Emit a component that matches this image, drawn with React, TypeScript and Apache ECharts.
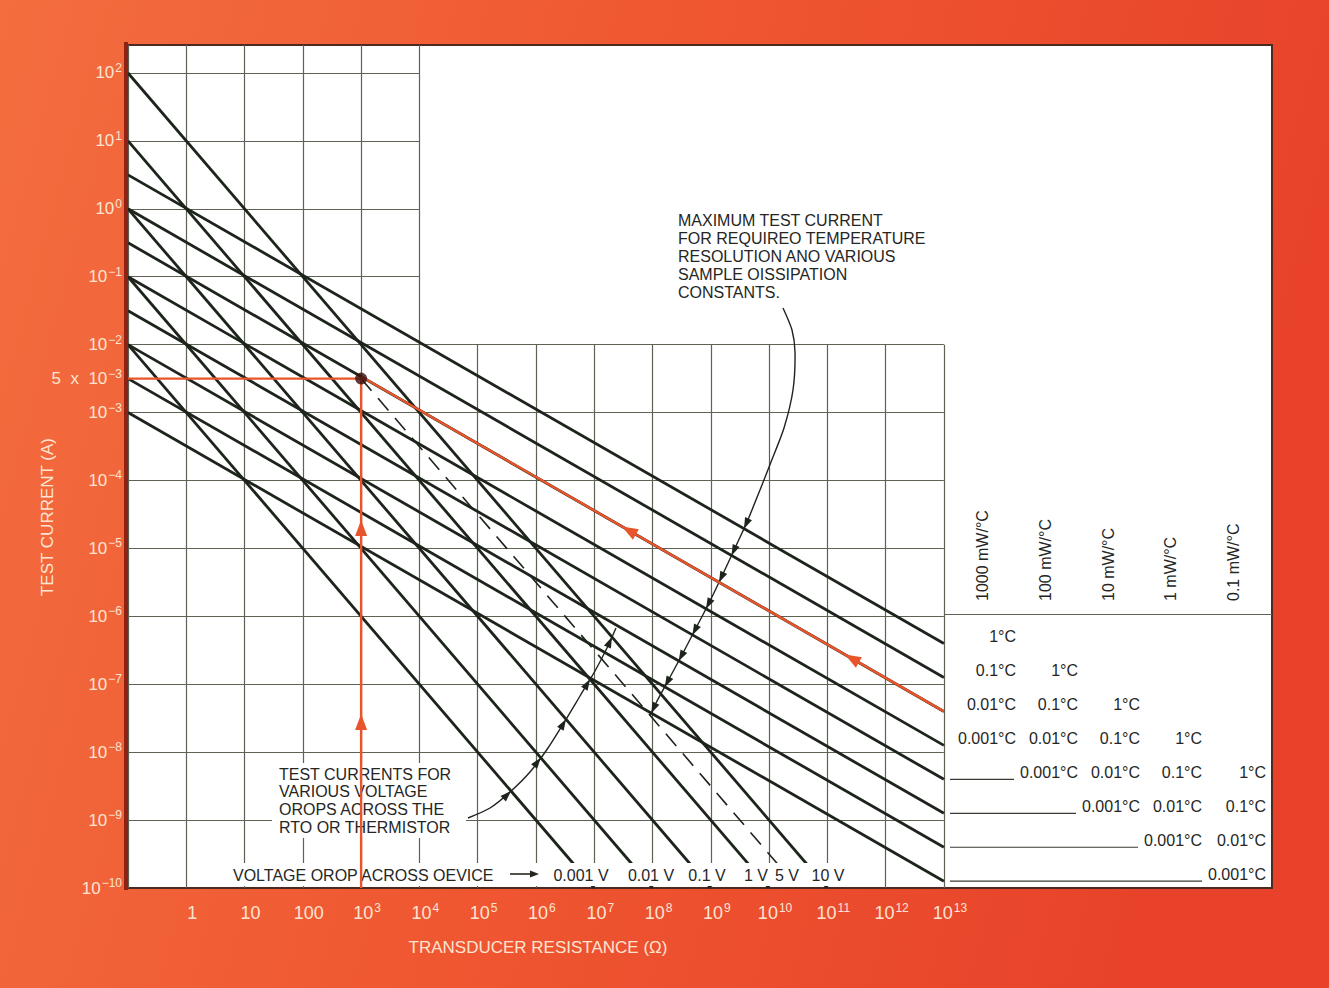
import React, { useEffect, useRef } from 'react';
import * as echarts from 'echarts';

// ---------------- data (all values are log10 units) ----------------
const X_MIN = -1; // log10 R at the left frame edge (0.1 ohm)
const X_MAX = 18.63; // log10 R at the right frame edge (table area)
const Y_MIN = -10; // log10 I at the bottom
const Y_MAX = 2.412; // log10 I at the top edge

const xTickExponents = [0, 1, 2, 3, 4, 5, 6, 7, 8, 9, 10, 11, 12, 13];
const yTickExponents = [2, 1, 0, -1, -2, -3, -4, -5, -6, -7, -8, -9, -10];
const yExampleTick = -2.5; // position of the "5 x 10^-3" label

const upperGridLogR = [-1, 0, 1, 2, 3, 4];
const upperGridLogI = [2, 1, 0, -1];
const mainGridLogR = [-1, 0, 1, 2, 3, 4, 5, 6, 7, 8, 9, 10, 11, 12, 13];
const mainGridLogI = [-2, -3, -4, -5, -6, -7, -8, -9];
const tableSeparatorLogI = -5.97;

// voltage-drop lines (slope -1): start at log R = -1, end at log I = -10
const voltageNames = ['10 V', '1 V', '0.1 V', '0.01 V', '0.001 V'];
const voltageStartLogI = [2, 1, 0, -1, -2];
const voltageEndLogR = [11, 10, 9, 8, 7];
// dashed 5 V line
const dashedStart = [3, -2.5];
const dashedEnd = [10.5, -10];

// max-current lines (slope -1/2): start at log R = -1, end at log R = 13
const powerNames = ['1 W', '100 mW', '10 mW', '1 mW', '0.1 mW', '10 µW', '1 µW', '0.1 µW'];
const powerStartLogI = [0.5, 0, -0.5, -1, -1.5, -2, -2.5, -3];
const powerEndLogI = [-6.4, -6.9, -7.4, -7.9, -8.4, -8.9, -9.4, -9.9];

// worked example (red)
const exampleLogR = 3;
const exampleLogI = -2.5;
const exampleDiagStart = [3, -2.47];
const exampleDiagEnd = [13, -7.4];

const dissipationLabels = ['1000 mW/°C', '100 mW/°C', '10 mW/°C', '1 mW/°C', '0.1 mW/°C'];
const resolutionLabels = ['1°C', '0.1°C', '0.01°C', '0.001°C'];
const bottomVoltageLabels = ['0.001 V', '0.01 V', '0.1 V', '1 V', '5 V', '10 V'];

const noteMax = ['MAXIMUM TEST CURRENT', 'FOR REQUIREO TEMPERATURE', 'RESOLUTION ANO VARIOUS', 'SAMPLE OISSIPATION', 'CONSTANTS.'];
const noteTest = ['TEST CURRENTS FOR', 'VARIOUS VOLTAGE', 'OROPS ACROSS THE', 'RTO OR THERMISTOR'];

// ---------------- styling / layout ----------------
const FONT = "'Liberation Sans', Arial, Helvetica, sans-serif";
const LABEL_COLOR = '#fde4d2';
const INK = '#1c241b';
const TEXT_INK = '#25261f';
const GRID_INK = '#5e6153';
const RED = '#e9552b';

const GL = 128;
const GT = 45;
const GW = 1144;
const GH = 843;
const px = (x: number) => GL + ((x - X_MIN) / (X_MAX - X_MIN)) * GW;
const py = (y: number) => GT + ((Y_MAX - y) / (Y_MAX - Y_MIN)) * GH;
const toVx = (p: number) => X_MIN + ((p - GL) / GW) * (X_MAX - X_MIN);

function lineYpx(a: number[], b: number[], pxX: number) {
  const xv = toVx(pxX);
  const yv = a[1] + ((xv - a[0]) * (b[1] - a[1])) / (b[0] - a[0]);
  return py(yv);
}

function crossing(path: number[][], a: number[], b: number[]) {
  for (let i = 0; i < path.length - 1; i++) {
    const p0 = path[i];
    const p1 = path[i + 1];
    const f0 = p0[1] - lineYpx(a, b, p0[0]);
    const f1 = p1[1] - lineYpx(a, b, p1[0]);
    if (f0 === f1) continue;
    if (f0 * f1 <= 0) {
      const t = f0 / (f0 - f1);
      return {
        x: p0[0] + t * (p1[0] - p0[0]),
        y: p0[1] + t * (p1[1] - p0[1]),
        a: Math.atan2(p1[1] - p0[1], p1[0] - p0[0]),
      };
    }
  }
  return null;
}

function arrowHead(x: number, y: number, ang: number, L: number, w: number, fill: string, z: number) {
  const bx = x - L * Math.cos(ang);
  const by = y - L * Math.sin(ang);
  const nx = -Math.sin(ang);
  const ny = Math.cos(ang);
  return {
    type: 'polygon',
    z,
    silent: true,
    shape: { points: [[x, y], [bx + w * nx, by + w * ny], [bx - w * nx, by - w * ny]] },
    style: { fill },
  };
}

function txt(x: number, y: number, text: string, opts: any = {}) {
  const align = opts.align || 'left';
  const va = opts.va || 'middle';
  return {
    type: 'text',
    x,
    y,
    z: opts.z ?? 6,
    rotation: opts.rotation || 0,
    silent: true,
    style: {
      text,
      x: 0,
      y: 0,
      fill: opts.fill || TEXT_INK,
      font: `${opts.weight || 'normal'} ${opts.size || 16}px ${opts.family || FONT}`,
      align,
      textAlign: align,
      verticalAlign: va,
      textVerticalAlign: va,
    },
  };
}

function buildOption() {
  const seg = (a: number[], b: number[]) => ({ coords: [a, b] });
  const gridSegs = [
    ...upperGridLogR.map((x) => seg([x, -2], [x, Y_MAX])),
    ...upperGridLogI.map((y) => seg([-1, y], [4, y])),
    ...mainGridLogR.map((x) => seg([x, Y_MIN], [x, -2])),
    ...mainGridLogI.map((y) => seg([-1, y], [13, y])),
    seg([13, tableSeparatorLogI], [X_MAX, tableSeparatorLogI]),
  ];

  const series: any[] = [
    {
      type: 'lines',
      coordinateSystem: 'cartesian2d',
      polyline: false,
      silent: true,
      z: 1,
      effect: { show: false },
      lineStyle: { color: GRID_INK, width: 1.2, opacity: 1 },
      data: gridSegs,
    },
  ];

  const voltageSegs = voltageNames.map((n, i) => ({
    name: n,
    a: [-1, voltageStartLogI[i]],
    b: [voltageEndLogR[i], Y_MIN],
  }));
  voltageSegs.forEach((s) => {
    series.push({
      type: 'line',
      name: s.name,
      data: [s.a, s.b],
      symbol: 'none',
      silent: true,
      z: 3,
      lineStyle: { color: INK, width: 2.8 },
    });
  });
  series.push({
    type: 'line',
    name: '5 V',
    data: [dashedStart, dashedEnd],
    symbol: 'none',
    silent: true,
    z: 3,
    lineStyle: { color: INK, width: 1.6, type: [16, 10] },
  });

  const powerSegs = powerNames.map((n, i) => ({
    name: n,
    a: [-1, powerStartLogI[i]],
    b: [13, powerEndLogI[i]],
  }));
  powerSegs.forEach((s) => {
    series.push({
      type: 'line',
      name: s.name,
      data: [s.a, s.b],
      symbol: 'none',
      silent: true,
      z: 3,
      lineStyle: { color: INK, width: 2.8 },
    });
  });

  // red worked example
  series.push(
    {
      type: 'line',
      data: [[-1, exampleLogI], [exampleLogR, exampleLogI]],
      symbol: 'none',
      silent: true,
      z: 9,
      lineStyle: { color: RED, width: 2.4 },
    },
    {
      type: 'line',
      data: [[exampleLogR, exampleLogI], [exampleLogR, Y_MIN]],
      symbol: 'none',
      silent: true,
      z: 9,
      lineStyle: { color: RED, width: 2.4 },
    },
    {
      type: 'line',
      data: [exampleDiagStart, exampleDiagEnd],
      symbol: 'none',
      silent: true,
      z: 9,
      lineStyle: { color: RED, width: 2.4 },
    },
    {
      type: 'scatter',
      data: [[exampleLogR, exampleLogI]],
      symbol: 'circle',
      symbolSize: 12,
      silent: true,
      z: 10,
      itemStyle: { color: '#3a0e0b' },
    }
  );

  // ---------------- graphic annotations ----------------
  const g: any[] = [];
  // left frame edge (dark red)
  g.push({ type: 'rect', z: 12, silent: true, shape: { x: 124, y: 42, width: 4, height: 848 }, style: { fill: '#8e2214' } });

  // text block backgrounds
  g.push({ type: 'rect', z: 5, silent: true, shape: { x: 272, y: 763, width: 194, height: 75 }, style: { fill: '#ffffff' } });
  g.push({ type: 'rect', z: 5, silent: true, shape: { x: 226, y: 863, width: 626, height: 23 }, style: { fill: '#ffffff' } });

  // "maximum test current" note
  noteMax.forEach((l, i) => g.push(txt(678, 220 + i * 18.2, l, { size: 16 })));
  // "test currents" note
  noteTest.forEach((l, i) => g.push(txt(279, 774 + i * 17.7, l, { size: 16 })));

  // bottom voltage labels
  g.push(txt(233, 875, 'VOLTAGE OROP ACROSS OEVICE', { size: 16 }));
  g.push({ type: 'line', z: 6, silent: true, shape: { x1: 510, y1: 874, x2: 532, y2: 874 }, style: { stroke: TEXT_INK, lineWidth: 1.6 } });
  g.push(arrowHead(539, 874, 0, 9, 3.5, TEXT_INK, 6));
  const bottomLabelX = [581, 651, 707, 756, 787, 828];
  bottomVoltageLabels.forEach((l, i) => g.push(txt(bottomLabelX[i], 875, l, { align: 'center', size: 16 })));

  // table header (rotated)
  const colCenters = [982, 1045, 1108, 1170, 1233];
  dissipationLabels.forEach((l, i) =>
    g.push(txt(colCenters[i], 601, l, { rotation: Math.PI / 2, size: 16 }))
  );
  // table cells
  const colRight = [1016, 1078, 1140, 1202, 1266];
  powerEndLogI.forEach((endI, r) => {
    const yRow = py(endI) + 1;
    for (let c = 0; c < dissipationLabels.length; c++) {
      const k = r - c;
      if (k < 0 || k >= resolutionLabels.length) continue;
      g.push(txt(colRight[c], yRow, resolutionLabels[k], { align: 'right', va: 'bottom', size: 16 }));
    }
    if (r >= resolutionLabels.length) {
      const firstCol = r - (resolutionLabels.length - 1);
      const endX = colRight[firstCol] - 64;
      g.push({ type: 'line', z: 6, silent: true, shape: { x1: 950, y1: py(endI), x2: endX, y2: py(endI) }, style: { stroke: '#3a3a33', lineWidth: 1.2 } });
    }
  });

  // leader 1 (to the max-current lines)
  const leader1 = [
    [783, 308], [792, 330], [795, 352], [793, 390], [784, 428], [771, 462], [760, 490], [747, 522],
    [735, 548], [722, 576], [709, 603], [696, 628], [683, 653], [669, 679], [656, 703], [650, 716],
  ];
  g.push({ type: 'polyline', z: 8, silent: true, shape: { points: leader1, smooth: 0.25 }, style: { stroke: INK, lineWidth: 1.4, fill: 'none' } });
  powerSegs.forEach((s) => {
    const c = crossing(leader1, s.a, s.b);
    if (c) g.push(arrowHead(c.x, c.y, c.a, 11, 3.8, INK, 8));
  });

  // leader 2 (to the voltage lines)
  const leader2 = [
    [468, 818], [490, 808], [510, 792], [530, 772], [548, 748], [565, 721], [580, 696], [595, 671], [607, 648], [616, 628],
  ];
  g.push({ type: 'polyline', z: 8, silent: true, shape: { points: leader2, smooth: 0.25 }, style: { stroke: INK, lineWidth: 1.4, fill: 'none' } });
  voltageSegs.forEach((s) => {
    const c = crossing(leader2, s.a, s.b);
    if (c) g.push(arrowHead(c.x, c.y, c.a, 11, 3.8, INK, 8));
  });

  // red arrows on vertical line (pointing up)
  [520, 714].forEach((yy) => g.push(arrowHead(px(exampleLogR), yy, -Math.PI / 2, 16, 6, RED, 10)));
  // red arrows on diagonal (pointing back up-left)
  const dA = [px(exampleDiagStart[0]), py(exampleDiagStart[1])];
  const dB = [px(exampleDiagEnd[0]), py(exampleDiagEnd[1])];
  const dAng = Math.atan2(dA[1] - dB[1], dA[0] - dB[0]);
  [622, 845].forEach((xx) => {
    const t = (xx - dA[0]) / (dB[0] - dA[0]);
    g.push(arrowHead(xx, dA[1] + t * (dB[1] - dA[1]), dAng, 16, 6, RED, 10));
  });

  // axis names
  g.push(txt(538, 947, 'TRANSDUCER RESISTANCE (Ω)', { align: 'center', size: 17, fill: LABEL_COLOR }));
  g.push(txt(47, 517, 'TEST CURRENT (A)', { align: 'center', size: 17, fill: LABEL_COLOR, rotation: Math.PI / 2 }));

  const rich = {
    b: { fontSize: 18, fontFamily: FONT, color: LABEL_COLOR, lineHeight: 22 },
    s: { fontSize: 12, fontFamily: FONT, color: LABEL_COLOR, lineHeight: 12, verticalAlign: 'top', padding: [0, 0, 0, 1] },
  };

  const sup = (n: number) => (n < 0 ? '−' + -n : String(n));

  return {
    animation: false,
    backgroundColor: new echarts.graphic.LinearGradient(0, 0, 1, 0.2, [
      { offset: 0, color: '#f36d3f' },
      { offset: 0.5, color: '#ef5731' },
      { offset: 1, color: '#e8432a' },
    ]),
    grid: {
      left: GL,
      top: GT,
      width: GW,
      height: GH,
      show: true,
      backgroundColor: '#ffffff',
      borderColor: '#4b2a22',
      borderWidth: 2,
    },
    xAxis: {
      type: 'value',
      min: X_MIN,
      max: X_MAX,
      interval: 1,
      splitLine: { show: false },
      axisLine: { show: false },
      axisTick: { show: false },
      axisLabel: {
        margin: 14,
        padding: [0, 0, 0, 12],
        showMaxLabel: false,
        rich,
        formatter: (v: number) => {
          const n = Math.round(v);
          if (Math.abs(v - n) > 1e-6 || !xTickExponents.includes(n)) return '';
          if (n === 0) return '{b|1}';
          if (n === 1) return '{b|10}';
          if (n === 2) return '{b|100}';
          return `{b|10}{s|${n}}`;
        },
      },
    },
    yAxis: {
      type: 'value',
      min: Y_MIN,
      max: Y_MAX,
      interval: 0.5,
      splitLine: { show: false },
      axisLine: { show: false },
      axisTick: { show: false },
      axisLabel: {
        margin: 6,
        showMaxLabel: false,
        rich: { ...rich, b: { ...rich.b, fontSize: 17 } },
        formatter: (v: number) => {
          if (Math.abs(v - yExampleTick) < 1e-6) return '{b|5  x  10}{s|−3}';
          const n = Math.round(v);
          if (Math.abs(v - n) > 1e-6 || !yTickExponents.includes(n)) return '';
          return `{b|10}{s|${sup(n)}}`;
        },
      },
    },
    graphic: { elements: g },
    series,
  };
}

export default function App() {
  const ref = useRef<HTMLDivElement>(null);
  useEffect(() => {
    document.body.style.margin = '0';
    const chart = echarts.init(ref.current!, null, { renderer: 'svg' });
    chart.setOption(buildOption() as any);
    return () => chart.dispose();
  }, []);
  return <div ref={ref} style={{ width: 1329, height: 988 }} />;
}
